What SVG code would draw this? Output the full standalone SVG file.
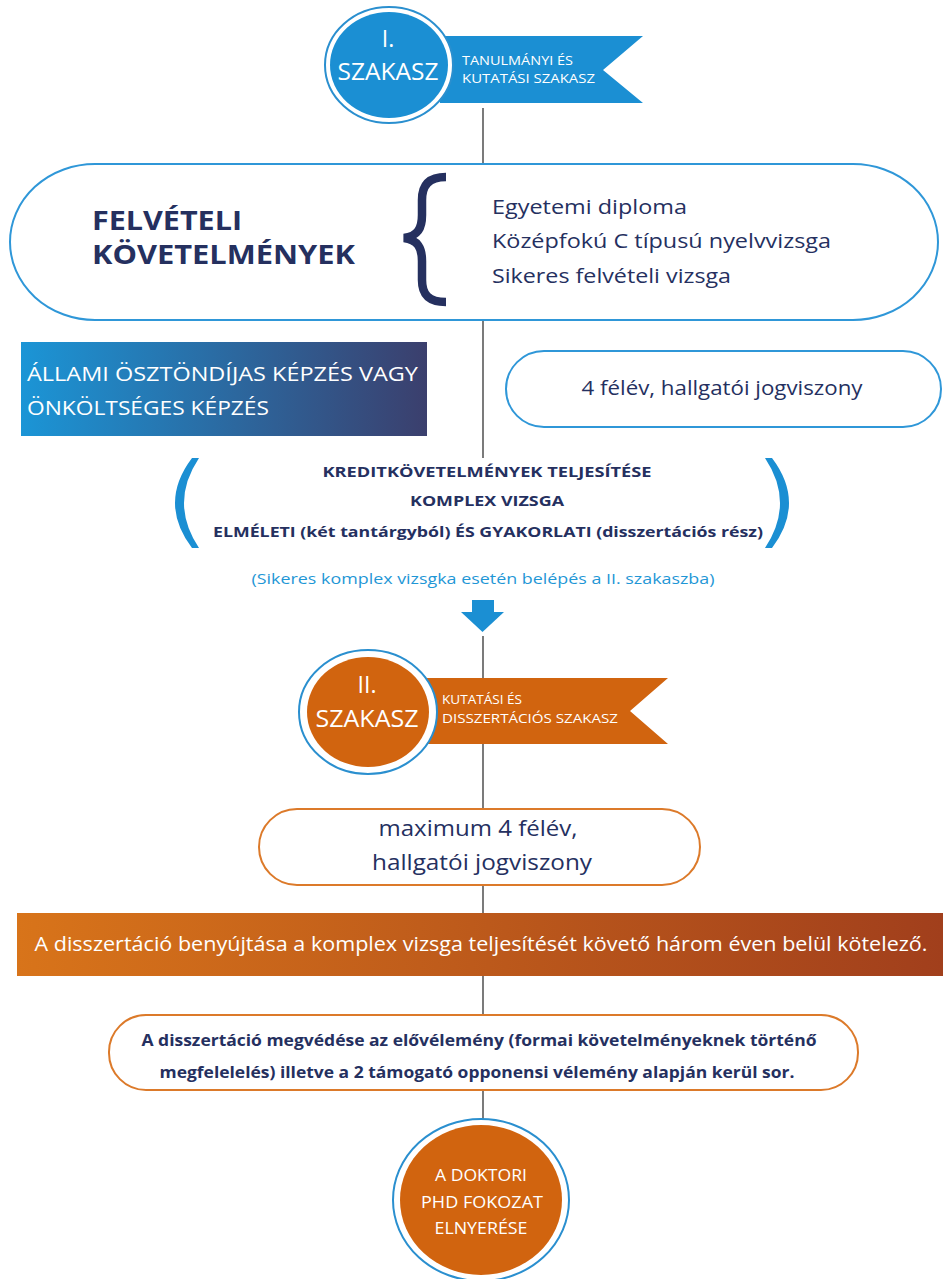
<svg xmlns="http://www.w3.org/2000/svg" width="943" height="1279" viewBox="0 0 943 1279">
<defs>
<style>
.t{font-family:"Open Sans","Liberation Sans",sans-serif}
.navy{fill:#25305f}
.w{fill:#ffffff}
.pb{fill:#ffffff;stroke:#2f97d8;stroke-width:2}
.po{fill:#ffffff;stroke:#dc7a2a;stroke-width:2}
.ring{fill:#ffffff;stroke:#2a8fcf;stroke-width:2}
.ln{stroke:#222;stroke-width:1.2;fill:none}
</style>
<linearGradient id="gb" x1="0" y1="0" x2="1" y2="0">
<stop offset="0" stop-color="#1b95d6"/>
<stop offset="1" stop-color="#3b3f6d"/>
</linearGradient>
<linearGradient id="go" x1="0" y1="0" x2="1" y2="0">
<stop offset="0" stop-color="#d8741a"/>
<stop offset="1" stop-color="#a13f1c"/>
</linearGradient>
</defs>
<rect width="943" height="1279" fill="#ffffff"/>

<g id="connectors">
<line class="ln" x1="483" y1="108" x2="483" y2="165"/>
<line class="ln" x1="483" y1="320" x2="483" y2="458"/>
<line class="ln" x1="483" y1="636" x2="483" y2="810"/>
<line class="ln" x1="483" y1="885" x2="483" y2="913"/>
<line class="ln" x1="483" y1="976" x2="483" y2="1015"/>
<line class="ln" x1="483" y1="1090" x2="483" y2="1120"/>
<g id="arrow-down">
<rect x="472" y="600" width="22" height="13" fill="#1b8fd3"/>
<polygon points="461,612 504,612 482.5,632" fill="#1b8fd3"/>
</g>
</g>

<g id="stage1">
<polygon points="440,36 643,36 603,70 643,103 440,103" fill="#1b8fd3"/>
<ellipse class="ring" cx="389" cy="65" rx="64" ry="58"/>
<ellipse cx="389" cy="65" rx="59" ry="53" fill="#1b8fd3"/>
<text class="t w" x="388" y="47" font-size="23" text-anchor="middle">I.</text>
<text class="t w" x="388" y="80" font-size="23" text-anchor="middle" textLength="101" lengthAdjust="spacingAndGlyphs">SZAKASZ</text>
<text class="t w" x="462" y="65" font-size="13" textLength="111" lengthAdjust="spacingAndGlyphs">TANULMÁNYI ÉS</text>
<text class="t w" x="462" y="83" font-size="13" textLength="133" lengthAdjust="spacingAndGlyphs">KUTATÁSI SZAKASZ</text>
</g>

<g id="felveteli">
<rect class="pb" x="10" y="164" width="928" height="156" rx="85" ry="78"/>
<text class="t navy" x="92" y="230" font-size="27" font-weight="bold" textLength="150" lengthAdjust="spacingAndGlyphs">FELVÉTELI</text>
<text class="t navy" x="92" y="264" font-size="27" font-weight="bold" textLength="263" lengthAdjust="spacingAndGlyphs">KÖVETELMÉNYEK</text>
<path d="M446,177 C428,177 422,186 422,200 L422,215 C422,228 418,236 404,238 C418,240 422,248 422,261 L422,280 C422,294 428,302 446,302" fill="none" stroke="#25305f" stroke-width="8.5"/>
<text class="t navy" x="492" y="214" font-size="20.5" textLength="195" lengthAdjust="spacingAndGlyphs">Egyetemi diploma</text>
<text class="t navy" x="492" y="248" font-size="20.5" textLength="339" lengthAdjust="spacingAndGlyphs">Középfokú C típusú nyelvvizsga</text>
<text class="t navy" x="492" y="283" font-size="20.5" textLength="239" lengthAdjust="spacingAndGlyphs">Sikeres felvételi vizsga</text>
</g>

<g id="finance">
<rect x="21" y="342" width="406" height="94" fill="url(#gb)"/>
<text class="t w" x="27" y="381" font-size="19.5" textLength="391" lengthAdjust="spacingAndGlyphs">ÁLLAMI ÖSZTÖNDÍJAS KÉPZÉS VAGY</text>
<text class="t w" x="27" y="415" font-size="19.5" textLength="242" lengthAdjust="spacingAndGlyphs">ÖNKÖLTSÉGES KÉPZÉS</text>
</g>

<g id="duration1">
<rect class="pb" x="506" y="351" width="435" height="76" rx="38"/>
<text class="t navy" x="722" y="395" font-size="20.5" text-anchor="middle" textLength="281" lengthAdjust="spacingAndGlyphs">4 félév, hallgatói jogviszony</text>
</g>

<g id="kredit">
<path d="M192,458 Q158,503 192,548 L199,548 Q169,503 199,458 Z" fill="#1b8fd3"/>
<path d="M772,458 Q806,503 772,548 L765,548 Q795,503 765,458 Z" fill="#1b8fd3"/>
<text class="t navy" x="487" y="477" font-size="15" font-weight="bold" text-anchor="middle" textLength="329" lengthAdjust="spacingAndGlyphs">KREDITKÖVETELMÉNYEK TELJESÍTÉSE</text>
<text class="t navy" x="487" y="506" font-size="15" font-weight="bold" text-anchor="middle" textLength="154" lengthAdjust="spacingAndGlyphs">KOMPLEX VIZSGA</text>
<text class="t navy" x="488" y="537" font-size="15" font-weight="bold" text-anchor="middle" textLength="550" lengthAdjust="spacingAndGlyphs">ELMÉLETI (két tantárgyból) ÉS GYAKORLATI (disszertációs rész)</text>
</g>

<g id="note">
<text class="t" x="483" y="584" font-size="15" fill="#1f97d6" text-anchor="middle" textLength="463" lengthAdjust="spacingAndGlyphs">(Sikeres komplex vizsgka esetén belépés a II. szakaszba)</text>
</g>

<g id="stage2">
<polygon points="420,678 668,678 630,711 668,744 420,744" fill="#d1640f"/>
<ellipse class="ring" cx="368" cy="712" rx="69" ry="62"/>
<ellipse cx="368" cy="712" rx="61" ry="55" fill="#d1640f"/>
<text class="t w" x="367" y="693" font-size="23" text-anchor="middle">II.</text>
<text class="t w" x="367" y="727" font-size="23" text-anchor="middle" textLength="103" lengthAdjust="spacingAndGlyphs">SZAKASZ</text>
<text class="t w" x="442" y="704" font-size="13.5" textLength="80" lengthAdjust="spacingAndGlyphs">KUTATÁSI ÉS</text>
<text class="t w" x="442" y="723" font-size="13.5" textLength="176" lengthAdjust="spacingAndGlyphs">DISSZERTÁCIÓS SZAKASZ</text>
</g>

<g id="duration2">
<rect class="po" x="259" y="809" width="441" height="76" rx="38"/>
<text class="t navy" x="478" y="836" font-size="22" text-anchor="middle" textLength="199" lengthAdjust="spacingAndGlyphs">maximum 4 félév,</text>
<text class="t navy" x="482" y="870" font-size="22" text-anchor="middle" textLength="220" lengthAdjust="spacingAndGlyphs">hallgatói jogviszony</text>
</g>

<g id="submission">
<rect x="17" y="913" width="926" height="63" fill="url(#go)"/>
<text class="t w" x="481" y="951" font-size="20.5" text-anchor="middle" textLength="893" lengthAdjust="spacingAndGlyphs">A disszertáció benyújtása a komplex vizsga teljesítését követő három éven belül kötelező.</text>
</g>

<g id="defense">
<rect class="po" x="109" y="1015" width="749" height="75" rx="37"/>
<text class="t navy" x="479" y="1046" font-size="16.5" font-weight="bold" text-anchor="middle" textLength="675" lengthAdjust="spacingAndGlyphs">A disszertáció megvédése az elővélemény (formai követelményeknek történő</text>
<text class="t navy" x="477" y="1078" font-size="16.5" font-weight="bold" text-anchor="middle" textLength="635" lengthAdjust="spacingAndGlyphs">megfelelelés) illetve a 2 támogató opponensi vélemény alapján kerül sor.</text>
</g>

<g id="degree">
<ellipse class="ring" cx="481" cy="1200" rx="88" ry="81"/>
<ellipse cx="481" cy="1200" rx="81" ry="75" fill="#d1640f"/>
<text class="t w" x="481" y="1181" font-size="17" text-anchor="middle" textLength="92" lengthAdjust="spacingAndGlyphs">A DOKTORI</text>
<text class="t w" x="482" y="1208" font-size="17" text-anchor="middle" textLength="122" lengthAdjust="spacingAndGlyphs">PHD FOKOZAT</text>
<text class="t w" x="481" y="1234" font-size="17" text-anchor="middle" textLength="93" lengthAdjust="spacingAndGlyphs">ELNYERÉSE</text>
</g>
</svg>
